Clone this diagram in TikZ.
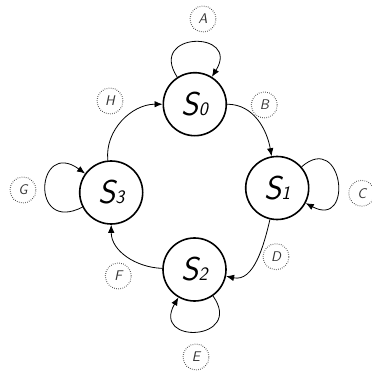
\documentclass[tikz,border=0pt]{standalone}
\usetikzlibrary{arrows.meta}
\begin{document}
\begin{tikzpicture}[x=1pt,y=1pt,
  state/.style={circle,draw,line width=1.6pt,minimum size=63pt,inner sep=0pt,
    font=\sffamily\itshape\fontsize{33}{33}\selectfont},
  lbl/.style={circle,draw=black!75,line width=1pt,dash pattern=on 0.6pt off 1.5pt,
    minimum size=26pt,inner sep=0pt,text=black!80,font=\sffamily\itshape\fontsize{14}{14}\selectfont},
  tr/.style={line width=0.8pt,-{Latex[length=8pt,width=6.5pt]}}]
\useasboundingbox (0,0) rectangle (372,376);
\newcommand{\st}[1]{S{\fontsize{19}{19}\selectfont #1}}
\node[state] (s0) at (194.8,271.8) {\st{0}};
\node[state] (s1) at (277.2,188.0) {\st{1}};
\node[state] (s2) at (194.5,106.5) {\st{2}};
\node[state] (s3) at (111.2,183.5) {\st{3}};
\node[lbl] (la) at (203,357) {A};
\node[lbl] (lb) at (264.3,271) {B};
\node[lbl] (lc) at (361.7,182.7) {C};
\node[lbl] (ld) at (276,119.3) {D};
\node[lbl] (le) at (196,19) {E};
\node[lbl] (lf) at (118.3,100) {F};
\node[lbl] (lg) at (23,186) {G};
\node[lbl] (lh) at (110,275) {H};
\draw[tr] (s0) to[out=0,in=100] (s1);
\draw[tr] (s1) to[out=-103,in=-12] (s2);
\draw[tr] (s2) to[out=178,in=-90] (s3);
\draw[tr] (s3) to[out=96,in=180] (s0);
\draw[tr] (s0.123) .. controls +(123:55) and +(58:55) .. (s0.58);
\draw[tr] (s1.41) .. controls +(41:55) and +(-28:55) .. (s1.-28);
\draw[tr] (s2.-55) .. controls +(-55:55) and +(-120:55) .. (s2.-120);
\draw[tr] (s3.207) .. controls +(207:60) and +(144:60) .. (s3.144);
\end{tikzpicture}
\end{document}
